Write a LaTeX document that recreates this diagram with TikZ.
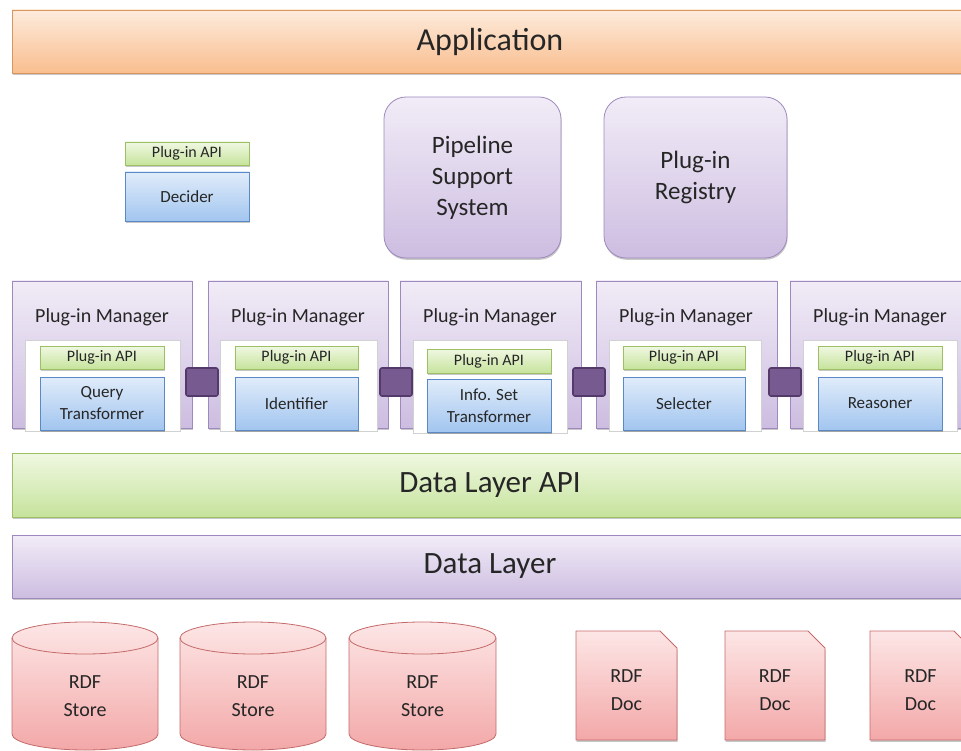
\documentclass[tikz,border=0pt]{standalone}
\usepackage{fontspec}
\setmainfont{Carlito}
\definecolor{tx}{HTML}{262626}
\definecolor{orT}{HTML}{FDEBDC}\definecolor{orB}{HTML}{F9BE8F}\definecolor{orD}{HTML}{D9955E}
\definecolor{puT}{HTML}{F1ECF7}\definecolor{puB}{HTML}{CDBDE1}\definecolor{puD}{HTML}{9E89BD}
\definecolor{grT}{HTML}{F0F8E2}\definecolor{grB}{HTML}{C6E39C}\definecolor{grD}{HTML}{9EC064}
\definecolor{blT}{HTML}{E0ECFA}\definecolor{blB}{HTML}{A2C5EF}\definecolor{blD}{HTML}{5A89C6}
\definecolor{rdT}{HTML}{FDE6E6}\definecolor{rdB}{HTML}{F3A8A8}\definecolor{rdD}{HTML}{C46A6A}
\definecolor{cnF}{HTML}{775A90}\definecolor{cnD}{HTML}{543A6B}
\newcommand\bx[7]{\node[#2, minimum width={(#5-#3)*1pt}, minimum height={(#6-#4)*1pt}] (#1) at ({(#3+#5)/2},{(#4+#6)/2}) {#7};}
\begin{document}
\begin{tikzpicture}[x=1pt,y=-1pt,
  base/.style={inner sep=0pt, outer sep=0pt, line width=0.8pt, text=tx, align=center},
  shd/.style={preaction={fill=black, opacity=0.22, transform canvas={xshift=0.6pt,yshift=-1.8pt}}},
  orangebar/.style={base, shd, draw=orD, top color=orT, bottom color=orB, font=\fontsize{32}{36}\selectfont},
  greenbar/.style={base, shd, draw=grD, top color=grT, bottom color=grB, font=\fontsize{31}{36}\selectfont},
  purplebar/.style={base, shd, draw=puD, top color=puT, bottom color=puB, font=\fontsize{31}{36}\selectfont},
  bigpurple/.style={base, shd, draw=puD, top color=puT, bottom color=puB, rounded corners=22pt, font=\fontsize{25}{31}\selectfont},
  mgr/.style={base, shd, draw=puD, top color=puT, bottom color=puB},
  inner/.style={base, fill=white, draw=black!18, line width=0.6pt},
  api/.style={base, shd, draw=grD, top color=grT, bottom color=grB, font=\fontsize{16}{18}\selectfont},
  plug/.style={base, shd, draw=blD, top color=blT, bottom color=blB, font=\fontsize{17}{22}\selectfont},
  conn/.style={base, fill=cnF, draw=cnD, line width=1.6pt, rounded corners=2pt},
  mgrlabel/.style={text=tx, inner sep=0pt, font=\fontsize{20}{24}\selectfont},
  store/.style={text=tx, align=center, inner sep=0pt, font=\fontsize{20}{28}\selectfont},
  redshape/.style={draw=rdD, line width=0.8pt, top color=rdT, bottom color=rdB},
]
\useasboundingbox (0,0) rectangle (961,751);
\clip (0,0) rectangle (961,751);

% top bar
\bx{app}{orangebar}{12}{10}{968}{73}{Application}

% decider
\bx{decapi}{api}{125}{142}{249}{165}{Plug-in API}
\bx{decider}{plug}{125}{172}{249}{221}{Decider}

% pipeline + registry
\bx{pss}{bigpurple}{384}{97}{561}{258}{Pipeline\\Support\\System}
\bx{reg}{bigpurple}{604}{97}{787}{258}{Plug-in\\Registry}

% plug-in managers
\bx{m1}{mgr}{12}{281}{192}{428}{}
\bx{m2}{mgr}{208}{281}{388}{428}{}
\bx{m3}{mgr}{400}{281}{581}{428}{}
\bx{m4}{mgr}{596}{281}{777}{428}{}
\bx{m5}{mgr}{790}{281}{972}{428}{}

\node[mgrlabel] (l1) at (102,317) {Plug-in Manager};
\node[mgrlabel] (l2) at (298,317) {Plug-in Manager};
\node[mgrlabel] (l3) at (490,317) {Plug-in Manager};
\node[mgrlabel] (l4) at (686,317) {Plug-in Manager};
\node[mgrlabel] (l5) at (880,317) {Plug-in Manager};

\bx{i1}{inner}{25}{340}{180}{431}{}
\bx{i2}{inner}{220}{340}{377}{431}{}
\bx{i3}{inner}{413}{340}{567}{433}{}
\bx{i4}{inner}{609}{340}{761}{431}{}
\bx{i5}{inner}{803}{340}{957}{431}{}

\bx{a1}{api}{40}{346}{164}{369}{Plug-in API}
\bx{a2}{api}{235}{346}{358}{369}{Plug-in API}
\bx{a3}{api}{427}{349}{551}{373}{Plug-in API}
\bx{a4}{api}{623}{346}{745}{369}{Plug-in API}
\bx{a5}{api}{818}{346}{942}{369}{Plug-in API}

\bx{p1}{plug}{40}{377}{164}{430}{Query\\Transformer}
\bx{p2}{plug}{235}{377}{358}{430}{Identifier}
\bx{p3}{plug}{427}{379}{551}{432}{Info. Set\\Transformer}
\bx{p4}{plug}{623}{377}{745}{430}{Selecter}
\bx{p5}{plug}{818}{377}{942}{430}{Reasoner}

\bx{c1}{conn}{186}{368}{218}{396}{}
\bx{c2}{conn}{380}{368}{412}{396}{}
\bx{c3}{conn}{573}{368}{605}{396}{}
\bx{c4}{conn}{769}{368}{801}{396}{}

% data layers
\bx{dlapi}{greenbar}{12}{453}{968}{517}{Data Layer API}
\bx{dl}{purplebar}{12}{535}{968}{598}{Data Layer}

% RDF stores (cylinders)
\foreach \xa/\xb/\nm in {12/158/s1, 180/326/s2, 349/496/s3}{
  \pgfmathsetmacro\rx{(\xb-\xa)/2}
  \pgfmathsetmacro\xc{(\xa+\xb)/2}
  \path[redshape] (\xa,638) -- (\xa,734) arc[start angle=180,end angle=0,x radius=\rx,y radius=16]
     -- (\xb,638) arc[start angle=0,end angle=-180,x radius=\rx,y radius=16] -- cycle;
  \draw[rdD, line width=0.8pt] (\xa,638) arc[start angle=180,end angle=0,x radius=\rx,y radius=16];
  \node[store] (\nm) at (\xc,696) {RDF\\Store};
}

% RDF docs
\foreach \xa/\xb/\nm in {576/677/d1, 725/825/d2, 870/971/d3}{
  \pgfmathsetmacro\xc{(\xa+\xb)/2}
  \pgfmathsetmacro\xk{\xb-17}
  \path[redshape, preaction={fill=black, opacity=0.22, transform canvas={xshift=0.6pt,yshift=-1.8pt}}]
     (\xa,631) -- (\xk,631) -- (\xb,648) -- (\xb,740) -- (\xa,740) -- cycle;
  \node[store] (\nm) at (\xc,690) {RDF\\Doc};
}
\end{tikzpicture}
\end{document}
